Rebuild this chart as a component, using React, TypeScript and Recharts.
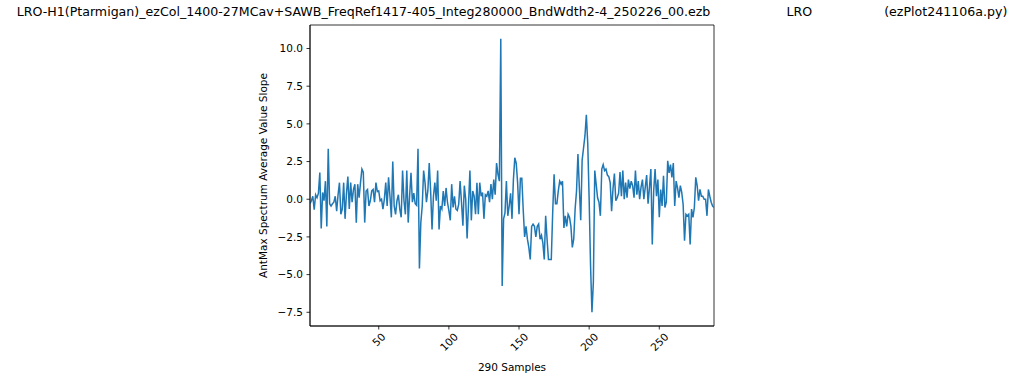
import React from 'react';
import { LineChart, Line, XAxis, YAxis, ReferenceArea, Label } from 'recharts';

// slope values, split by sample range
const slopeA = [ // samples 1-49
  -0.3, -0.1, 0.2, -0.7, 0.3, 0.1, 0.4, 1.77, -1.94, 0.45,
  -0.1, 1.2, -1.8, 3.35, -0.3, -0.45, -0.3, -0.2, 0.2, -0.8,
  0.3, 1.1, -1.0, -0.65, 1.1, -1.3, 0.4, 1.5, -0.65, 1.1,
  -0.2, 0.65, 1.0, -1.55, 1.0, 0.1, 1.1, 2.0, 1.8, -1.55,
  0.55, 0.65, -0.45, -0.1, 0.55, 0.65, -0.2, 1.1, 0.5,
];
const slopeB = [ // samples 50-95
  0.55, -0.1, 0.0, -0.65, 0.0, 1.1, -0.45, 1.45, 0.2, -1.2,
  2.5, -0.45, -1.0, -0.1, 0.3, -0.65, -1.2, 1.9, -0.1, -1.0,
  1.9, -1.55, 0.2, 1.75, -0.2, 0.4, -0.3, -0.4, 3.35, -4.6,
  -1.55, -0.45, 1.9, 1.1, -0.2, 0.55, 2.4, 0.55, -2.0, 0.2,
  1.1, -0.1, 1.9, -2.0, -0.45, -0.65,
];
const slopeC = [ // samples 96-146
  0.55, -0.45, 0.75, -0.2, -0.75, -1.4, 1.0, -0.55, 0.2, -0.65,
  -0.75, -0.35, 1.2, -0.2, -1.75, 0.9, 0.0, -2.6, -0.35, 1.9,
  -1.4, 0.55, 0.2, -1.0, 1.1, -1.0, 1.1, 0.2, 0.45, -1.3,
  0.3, 0.2, 0.55, -0.2, 1.0, 0.0, 1.3, 0.3, 2.4, 1.65,
  1.2, 10.65, -5.75, -1.3, -0.9, 1.2, -1.1, -0.45, 0.4, -1.3,
  1.3,
];
const slopeD = [ // samples 147-191
  2.75, 2.4, 1.1, -1.0, 1.4, 1.4, -0.7, -2.5, -1.8, -2.65,
  -3.2, -4.0, -1.8, -1.65, -1.8, -2.5, -1.8, -1.65, -2.65, -2.4,
  -2.9, -4.0, -1.1, -2.65, -4.0, -4.0, -4.0, -0.9, 1.65, -0.3,
  -0.3, 0.55, 1.2, 1.0, 1.2, -1.9, -1.1, -1.8, -1.0, -1.2,
  -1.8, -3.2, -2.65, -0.65, 0.55,
];
const slopeE = [ // samples 192-242
  3.0, 0.8, -1.4, 2.6, 3.4, 4.2, 5.6, 3.7, 0.0, -4.4,
  -7.5, -5.5, 1.9, 1.0, 0.1, -0.2, -1.1, 2.0, 2.3, 1.9,
  2.0, 1.6, 1.5, 1.1, -0.8, 0.7, 1.7, -0.1, 0.1, 0.4,
  1.8, 0.2, 1.9, 0.0, 1.1, 0.1, 1.3, 0.7, 1.2, 0.9,
  0.1, 1.9, 0.3, 1.2, 0.0, 0.8, 1.3, 0.0, 0.8, 1.6,
  -0.3,
];
const slopeF = [ // samples 243-289
  0.8, 2.0, -3.0, 0.55, 2.0, 0.2, 1.3, -1.2, 0.65, -0.45,
  1.55, -0.55, -0.2, 2.55, 1.75, 2.3, 1.45, 2.4, -0.45, 1.2,
  0.75, 0.1, 0.9, 0.45, -0.35, -2.75, -1.0, -1.1, -1.0, -3.0,
  -0.65, -1.2, -0.55, 1.45, 0.9, -0.1, 0.65, 0.2, 0.2, 0.0,
  0.0, -1.1, 0.65, 0.2, -0.2, -0.45, -0.55,
];

const xTicks = [50, 100, 150, 200, 250];
const yTicks = [-7.5, -5, -2.5, 0, 2.5, 5, 7.5, 10];
const xDomain = [1, 289];
const yDomain = [-8.41, 11.56];

const title =
  'LRO-H1(Ptarmigan)_ezCol_1400-27MCav+SAWB_FreqRef1417-405_Integ280000_BndWdth2-4_250226_00.ezb' +
  '                   LRO                  (ezPlot241106a.py)';

const values = [...slopeA, ...slopeB, ...slopeC, ...slopeD, ...slopeE, ...slopeF];
const data = values.map((y, i) => ({ x: i + 1, y }));

const FONT = 'DejaVu Sans';
const FS = 10.5;

const fmtY = (v: number) => v.toFixed(1).replace('-', '\u2212');

const RotTick = (props: any) => {
  const { x, y, payload } = props;
  const s = String(payload.value);
  const ext = (s.length * 0.636 * FS + 1.16 * FS) * 0.7071;
  const cy = y + ext / 2;
  return (
    <text
      x={x}
      y={cy}
      textAnchor="middle"
      dominantBaseline="central"
      transform={`rotate(-45 ${x} ${cy})`}
      fontSize={FS}
      fontFamily={FONT}
      fill="#000"
    >
      {s}
    </text>
  );
};

const App = () => {
  return (
    <div style={{ position: 'absolute', left: 0, top: 0, width: 1024, height: 382, background: '#fff' }}>
      <div
        style={{
          position: 'absolute',
          left: 0,
          top: 4,
          width: 1024,
          textAlign: 'center',
          whiteSpace: 'pre',
          fontFamily: FONT,
          fontSize: 12.6,
          lineHeight: '15px',
          color: '#000',
        }}
      >
        {title}
      </div>
      <LineChart width={1024} height={382} data={data} margin={{ top: 25, right: 310, bottom: 0, left: 250 }}>
        <XAxis
          dataKey="x"
          type="number"
          domain={xDomain}
          ticks={xTicks}
          allowDataOverflow
          height={56}
          stroke="#000"
          strokeWidth={0.8}
          tickSize={3.5}
          tickMargin={1}
          tick={<RotTick />}
        >
          <Label
            content={({ viewBox }: any) => (
              <text
                x={viewBox.x + viewBox.width / 2}
                y={367}
                textAnchor="middle"
                dominantBaseline="central"
                fontSize={FS}
                fontFamily={FONT}
                fill="#000"
              >
                290 Samples
              </text>
            )}
          />
        </XAxis>
        <YAxis
          type="number"
          domain={yDomain}
          ticks={yTicks}
          allowDataOverflow
          width={60}
          stroke="#000"
          strokeWidth={0.8}
          tickSize={3.5}
          tickMargin={3.5}
          tickFormatter={fmtY}
          tick={{ fontSize: FS, fontFamily: FONT, fill: '#000' }}
        >
          <Label
            content={({ viewBox }: any) => {
              const cx = viewBox.x + 13;
              const cy = viewBox.y + viewBox.height / 2;
              return (
                <text
                  x={cx}
                  y={cy}
                  textAnchor="middle"
                  dominantBaseline="central"
                  transform={`rotate(-90 ${cx} ${cy})`}
                  fontSize={FS}
                  fontFamily={FONT}
                  fill="#000"
                >
                  AntMax Spectrum Average Value Slope
                </text>
              );
            }}
          />
        </YAxis>
        <ReferenceArea
          x1={xDomain[0]}
          x2={xDomain[1]}
          y1={yDomain[0]}
          y2={yDomain[1]}
          fill="none"
          stroke="#000"
          strokeWidth={0.8}
        />
        <Line
          type="linear"
          dataKey="y"
          stroke="#1f77b4"
          strokeWidth={1.5}
          dot={false}
          isAnimationActive={false}
        />
      </LineChart>
    </div>
  );
};

export default App;
